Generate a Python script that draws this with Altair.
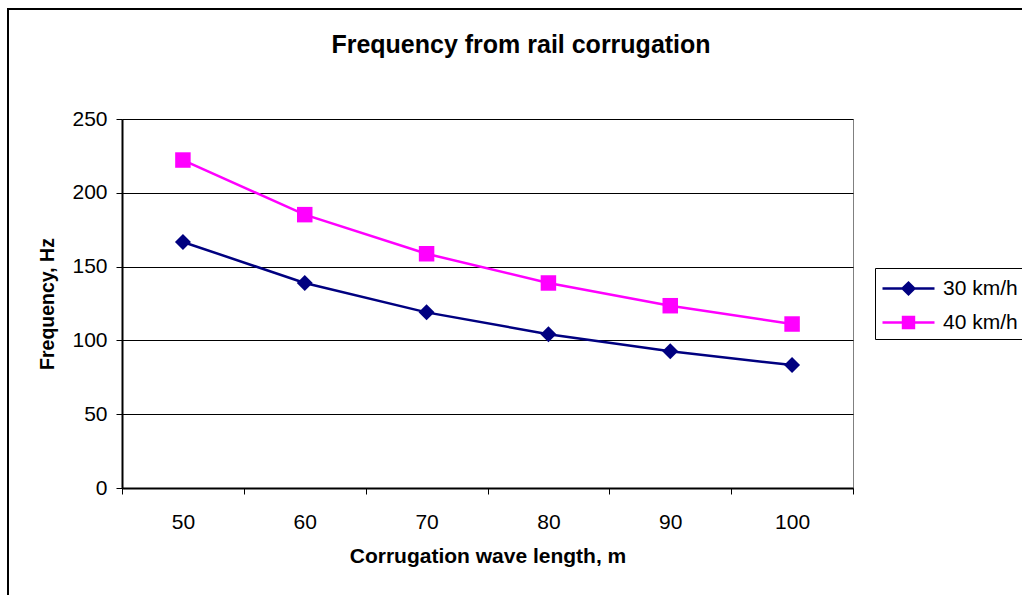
import altair as alt
import pandas as pd

# ---- data ----
wavelengths = [50, 60, 70, 80, 90, 100]
freq_30 = [166.7, 138.9, 119.0, 104.2, 92.6, 83.3]
freq_40 = [222.2, 185.2, 158.7, 138.9, 123.5, 111.1]
series_names = ["30 km/h", "40 km/h"]
series_colors = ["#000080", "#FF00FF"]
series_shapes = ["diamond", "square"]
y_ticks = [0, 50, 100, 150, 200, 250]
chart_title = ["Frequency from rail corrugation"]

df = pd.DataFrame({
    "wavelength": wavelengths * 2,
    "frequency": freq_30 + freq_40,
    "series": [series_names[0]] * len(wavelengths) + [series_names[1]] * len(wavelengths),
})

FONT = "Liberation Sans"
W, H = 731, 369

x_enc = alt.X(
    "wavelength:O",
    bandPosition=0.5,
    scale=alt.Scale(type="band", paddingInner=0, paddingOuter=0),
    axis=alt.Axis(
        title="Corrugation wave length, m",
        labelAngle=0,
        tickBand="extent",
        grid=False,
        tickSize=6,
        labelPadding=17,
        titlePadding=13,
        domainWidth=2,
        titleFontSize=21,
    ),
)
y_enc = alt.Y(
    "frequency:Q",
    scale=alt.Scale(domain=[0, 250], nice=False),
    axis=alt.Axis(
        title="Frequency, Hz",
        values=y_ticks,
        grid=True,
        tickSize=6,
        labelPadding=9,
        titlePadding=14,
        domainWidth=2,
        titleFontSize=19.5,
    ),
)

base = alt.Chart(df)

series_layers = []
for name, col, shp, sz in zip(series_names, series_colors, series_shapes, [256, 240]):
    sub = base.transform_filter(alt.datum.series == name)
    series_layers.append(sub.mark_line(strokeWidth=2.5, color=col).encode(x=x_enc, y=y_enc))
    series_layers.append(
        sub.mark_point(shape=shp, filled=True, size=sz, opacity=1, color=col).encode(x=x_enc, y=y_enc)
    )

# legend-only layer (nothing drawn): symbols are line + marker paths
color_scale = alt.Scale(domain=series_names, range=series_colors)
path_30 = "M-2,0L2,0M-0.45,0L0,-0.45L0.45,0L0,0.45Z"
path_40 = "M-2,0L2,0M-0.42,-0.42L0.42,-0.42L0.42,0.42L-0.42,0.42Z"
leg = dict(title=None, orient="none", legendX=753, legendY=149)
legend_layer = base.transform_filter("false").mark_point(
    filled=True, opacity=1, strokeWidth=2.5
).encode(
    x=x_enc, y=y_enc,
    fill=alt.Fill("series:N", scale=color_scale, legend=alt.Legend(**leg)),
    stroke=alt.Stroke("series:N", scale=color_scale, legend=alt.Legend(**leg)),
    shape=alt.Shape("series:N", scale=alt.Scale(domain=series_names, range=[path_30, path_40]),
                    legend=alt.Legend(**leg)),
)

title_df = pd.DataFrame({"t": chart_title})
title_mark = alt.Chart(title_df).mark_text(
    font=FONT, fontSize=25, fontWeight="bold", color="black",
    align="center", baseline="alphabetic",
).encode(text="t:N", x=alt.value(399), y=alt.value(-66))

border_df = pd.DataFrame({"b": [0]})
border_left = alt.Chart(border_df).mark_rule(color="black", strokeWidth=2).encode(
    x=alt.value(-114), y=alt.value(-110), y2=alt.value(500)
)
border_top = alt.Chart(border_df).mark_rule(color="black", strokeWidth=2).encode(
    x=alt.value(-115), x2=alt.value(920), y=alt.value(-110)
)

chart = alt.layer(
    border_left, border_top, title_mark, *series_layers, legend_layer
).properties(
    width=W, height=H,
    autosize=alt.AutoSizeParams(type="none"),
    padding={"left": 122, "top": 119, "right": 169, "bottom": 107},
    background="white",
).configure_view(
    stroke="#808080", strokeWidth=1,
).configure_axis(
    labelFont=FONT, labelFontSize=21, labelColor="black",
    titleFont=FONT, titleFontWeight="bold", titleColor="black",
    domainColor="black", tickColor="black", tickWidth=1,
    gridColor="black", gridWidth=1,
).configure_legend(
    strokeColor="black", strokeWidth=1, fillColor="white",
    padding=6,
    symbolSize=676, symbolStrokeWidth=2.5, symbolOffset=13,
    labelOffset=20, rowPadding=8,
    labelFont=FONT, labelFontSize=21, labelColor="black",
)

chart.save("out.html", embed_options={"renderer": "svg", "actions": False})
